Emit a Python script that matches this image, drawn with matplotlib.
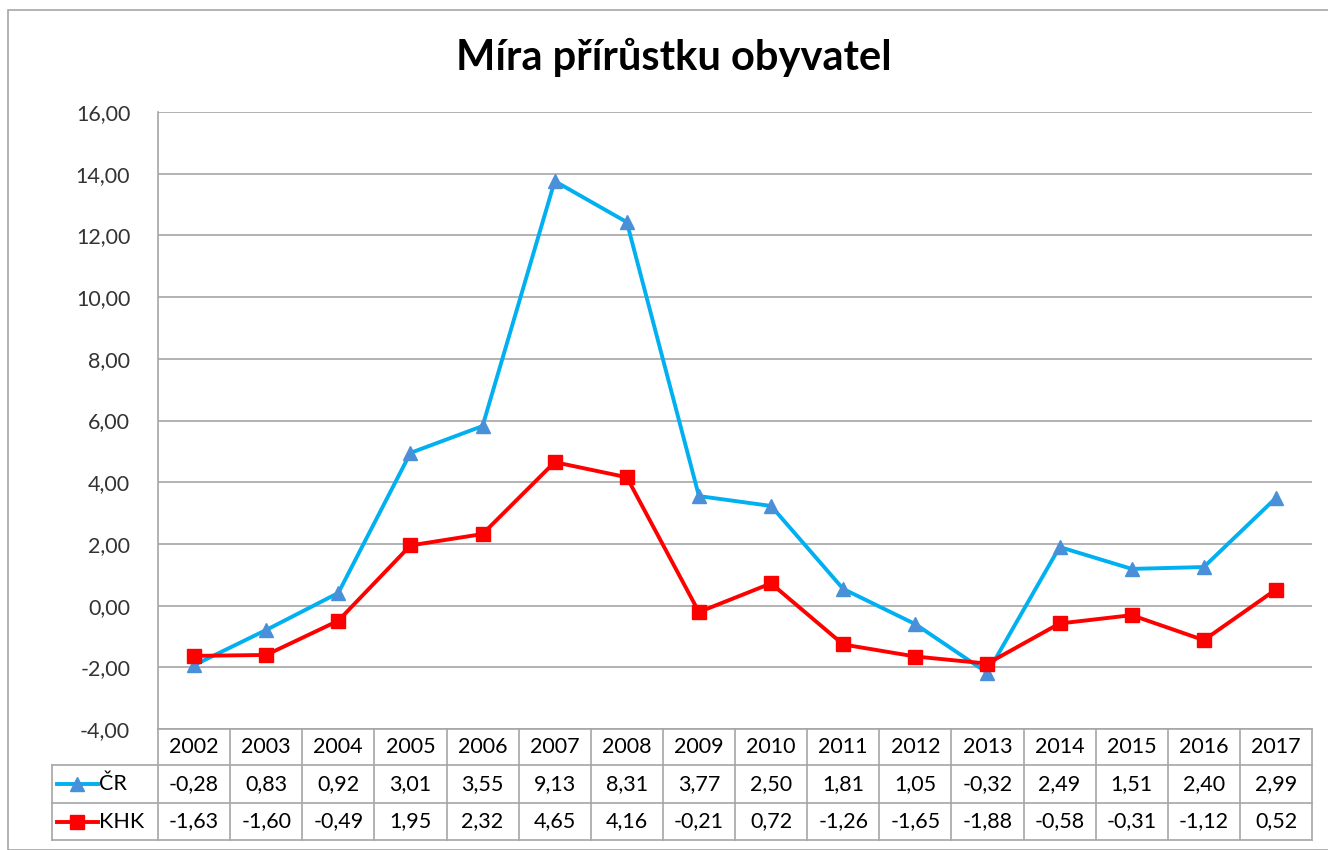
# Graf: míra přírůstku obyvatel, ČR vs. KHK, s tabulkou dat pod grafem.
import matplotlib.pyplot as plt
import matplotlib.transforms as mtransforms
from matplotlib.patches import Rectangle

plt.rcParams['font.family'] = ['Lato', 'DejaVu Sans']

# Data.
roky = ["2002", "2003", "2004", "2005", "2006", "2007", "2008", "2009",
        "2010", "2011", "2012", "2013", "2014", "2015", "2016", "2017"]
cr_graf = [-1.93, -0.79, 0.41, 4.95, 5.82, 13.76, 12.43, 3.55,
           3.23, 0.54, -0.60, -2.18, 1.90, 1.19, 1.25, 3.49]
cr_tabulka = ["-0,28", "0,83", "0,92", "3,01", "3,55", "9,13", "8,31", "3,77",
              "2,50", "1,81", "1,05", "-0,32", "2,49", "1,51", "2,40", "2,99"]
khk = [-1.63, -1.60, -0.49, 1.95, 2.32, 4.65, 4.16, -0.21,
       0.72, -1.26, -1.65, -1.88, -0.58, -0.31, -1.12, 0.52]
y_ticky = [-4, -2, 0, 2, 4, 6, 8, 10, 12, 14, 16]

modra = "#00B0F0"
modra_marker = "#4A90D9"
cervena = "#FF0000"
seda = "#A6A6A6"
fs = 15.5

W, H = 1328, 850
fig = plt.figure(figsize=(W / 100, H / 100), dpi=100)

# Rámeček grafu.
fig.patches.append(Rectangle((8 / W, 0), 1.2, 1 - 10 / H, transform=fig.transFigure,
                             fill=False, edgecolor=seda, linewidth=1.2))

x0, x1 = 158, 1312
y_top, y_bot = 112, 729
ax = fig.add_axes([x0 / W, 1 - y_bot / H, (x1 - x0) / W, (y_bot - y_top) / H])

x = list(range(len(roky)))
ax.plot(x, cr_graf, color=modra, linewidth=2.8, marker="^", markersize=10,
        markerfacecolor=modra_marker, markeredgecolor=modra_marker, zorder=3)
ax.plot(x, khk, color=cervena, linewidth=2.8, marker="s", markersize=10,
        markerfacecolor=cervena, markeredgecolor=cervena, zorder=3)

ax.set_xlim(-0.5, len(roky) - 0.5)
ax.set_ylim(-4, 16)
ax.set_yticks(y_ticky)
ax.set_yticklabels([f"{v:.2f}".replace(".", ",") for v in y_ticky], fontsize=fs, color="#333333")
ax.set_xticks([])
ax.tick_params(axis="y", length=0, pad=20)
ax.grid(axis="y", color=seda, linewidth=1.2)
ax.set_axisbelow(True)
for s in ["top", "right", "bottom"]:
    ax.spines[s].set_visible(False)
ax.spines["left"].set_color(seda)
ax.spines["left"].set_linewidth(1.2)

fig.text(674 / W, 1 - 57 / H, "Míra přírůstku obyvatel", ha="center", va="center",
         fontsize=30, fontweight="bold", color="black")

# Tabulka pod grafem.
tr = mtransforms.blended_transform_factory(ax.transData, ax.transAxes)
ph = y_bot - y_top
def ya(py):
    return (y_bot - py) / ph

radky = [729, 765, 803, 840]
leva = -0.5 - (x0 - 52) / 72.1
prava = len(roky) - 0.5
lw = dict(color=seda, linewidth=1.2, clip_on=False, transform=tr)
# horizontální čáry
ax.plot([-0.5, prava], [ya(radky[0])] * 2, **lw)
for r in radky[1:]:
    ax.plot([leva, prava], [ya(r)] * 2, **lw)
# vertikální čáry
for i in range(len(roky) + 1):
    ax.plot([i - 0.5] * 2, [ya(radky[0]), ya(radky[3])], **lw)
ax.plot([leva] * 2, [ya(radky[1]), ya(radky[3])], **lw)

for i, rok in enumerate(roky):
    ax.text(i, ya((radky[0] + radky[1]) / 2), rok, ha="center", va="center",
            fontsize=fs, transform=tr, clip_on=False)
    ax.text(i, ya((radky[1] + radky[2]) / 2), cr_tabulka[i], ha="center", va="center",
            fontsize=fs, transform=tr, clip_on=False)
    ax.text(i, ya((radky[2] + radky[3]) / 2), f"{khk[i]:.2f}".replace(".", ","),
            ha="center", va="center", fontsize=fs, transform=tr, clip_on=False)

# legenda v tabulce
for r, barva, mb, mk, popis in [(1, modra, modra_marker, "^", "ČR"), (2, cervena, cervena, "s", "KHK")]:
    yy = ya((radky[r] + radky[r + 1]) / 2)
    lx0 = -0.5 - (x0 - 57) / 72.1
    lx1 = -0.5 - (x0 - 98) / 72.1
    ax.plot([lx0, lx1], [yy, yy], color=barva, linewidth=2.8, clip_on=False, transform=tr)
    ax.plot([(lx0 + lx1) / 2], [yy], marker=mk, markersize=10, color=mb,
            clip_on=False, transform=tr)
    ax.text(lx1 + 0.01, yy, popis, ha="left", va="center", fontsize=fs,
            transform=tr, clip_on=False)

fig.savefig("out.png", dpi=100)
